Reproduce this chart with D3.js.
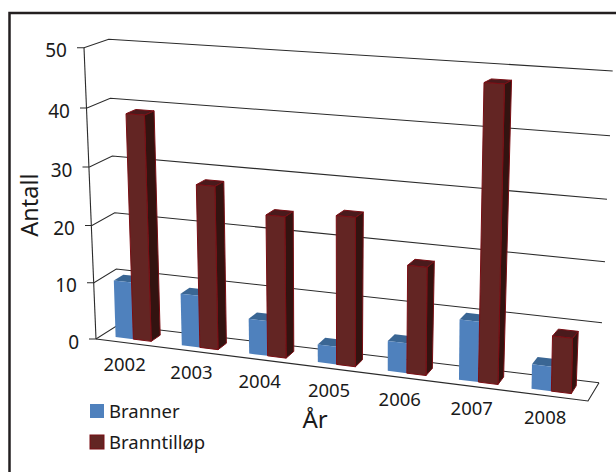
<!DOCTYPE html>
<html>
<head>
<meta charset="utf-8">
<script src="https://cdn.jsdelivr.net/npm/d3@7"></script>
<style>
  html, body { margin: 0; padding: 0; background: #fff; }
  svg { display: block; }
  text { font-family: "Noto Sans", sans-serif; fill: #1a1a1a; }
</style>
</head>
<body>
<div id="chart"></div>
<script>
const years = ["2002", "2003", "2004", "2005", "2006", "2007", "2008"];
const branner = [10, 9, 6, 3, 5, 10, 4];
const branntillop = [39, 28, 24, 25, 18, 48, 9];
const seriesNames = ["Branner", "Branntilløp"];
const yTicks = [0, 10, 20, 30, 40, 50];

const width = 616, height = 472;

const svg = d3.select("#chart")
  .append("svg")
  .attr("width", width)
  .attr("height", height);

// box corners as they sit on the page, one scale pair per vertical edge
const edge = (xs, ys) => ({
  x: d3.scaleLinear().domain(yTicks).range(xs),
  y: d3.scaleLinear().domain(yTicks).range(ys)
});
const frontLeft = edge([96, 94, 92, 89.5, 87, 84], [339, 282.7, 225.5, 167, 108, 47.7]);
const backLeft = edge([118, 116.3, 114.7, 112.3, 110.3, 108.7], [325, 269, 212.7, 156, 98.3, 39.3]);
const backRight = edge([599, 602, 605, 607, 610, 612.7], [382.7, 322.7, 261.7, 199.3, 135.7, 71]);
const frontRight = edge([588, 589, 591, 593, 595.5, 598], [401, 338.7, 276, 211, 146, 79]);

// perspective squeeze along the width of the floor
const k = 1.067;
const warp = u => u / (u + k * (1 - u));

// u: 0-1 across, d: 0 front - 1 back, v: value
function project(u, d, v) {
  const w = warp(u);
  const at = key => {
    const front = frontLeft[key](v) + (frontRight[key](v) - frontLeft[key](v)) * w;
    const back = backLeft[key](v) + (backRight[key](v) - backLeft[key](v)) * w;
    return front + (back - front) * d;
  };
  return [at("x"), at("y")];
}

const x0 = d3.scaleBand().domain(years).range([-0.003, 0.995]).paddingInner(0.46).paddingOuter(0.23);
const x1 = d3.scaleBand().domain(seriesNames).range([0, x0.bandwidth()]);
const depthFront = 0.27, depthBack = 0.7;

const line = d3.line();
const axisColor = "#2b2b2b";

// =========================
// FLOOR + GRID
// =========================
const grid = svg.append("g")
  .attr("fill", "none")
  .attr("stroke", axisColor)
  .attr("stroke-width", 1.1);

grid.selectAll("path.grid")
  .data(yTicks)
  .join("path")
  .attr("class", "grid")
  .attr("d", v => line([
    [frontLeft.x(v) - 7, frontLeft.y(v)],
    [frontLeft.x(v), frontLeft.y(v)],
    [backLeft.x(v), backLeft.y(v)],
    [backRight.x(v), backRight.y(v)]
  ]));

grid.append("path")
  .attr("d", line([[frontLeft.x(50), frontLeft.y(50)], [frontLeft.x(0), frontLeft.y(0)]]));

grid.append("path")
  .attr("d", line([
    [frontLeft.x(0), frontLeft.y(0)],
    [frontRight.x(0), frontRight.y(0)],
    [backRight.x(0), backRight.y(0)]
  ]));

// =========================
// BARS
// =========================
const palette = {
  Branner: { front: "#4f81bd", side: "#2f5480", top: "#3a6694", stroke: "none" },
  "Branntilløp": { front: "#632523", side: "#331310", top: "#4a1a1c", stroke: "#7a0e14" }
};

const barData = years.flatMap((year, i) => [
  { year, name: "Branner", value: branner[i] },
  { year, name: "Branntilløp", value: branntillop[i] }
]);

const bars = svg.append("g")
  .selectAll("g")
  .data(barData)
  .join("g")
  .attr("stroke-width", 1)
  .attr("stroke-linejoin", "round")
  .attr("stroke", d => palette[d.name].stroke);

const uLeft = d => x0(d.year) + x1(d.name);
const uRight = d => uLeft(d) + x1.bandwidth();

bars.append("path")
  .attr("fill", d => palette[d.name].side)
  .attr("d", d => line([
    project(uRight(d), depthFront, 0),
    project(uRight(d), depthBack, 0),
    project(uRight(d), depthBack, d.value),
    project(uRight(d), depthFront, d.value)
  ]) + "Z");

bars.append("path")
  .attr("fill", d => palette[d.name].top)
  .attr("d", d => line([
    project(uLeft(d), depthFront, d.value),
    project(uRight(d), depthFront, d.value),
    project(uRight(d), depthBack, d.value),
    project(uLeft(d), depthBack, d.value)
  ]) + "Z");

bars.append("path")
  .attr("fill", d => palette[d.name].front)
  .attr("d", d => line([
    project(uLeft(d), depthFront, 0),
    project(uRight(d), depthFront, 0),
    project(uRight(d), depthFront, d.value),
    project(uLeft(d), depthFront, d.value)
  ]) + "Z");

// =========================
// TICK LABELS
// =========================
svg.append("g")
  .selectAll("text")
  .data(yTicks)
  .join("text")
  .attr("x", v => frontLeft.x(v) - 17)
  .attr("y", v => frontLeft.y(v) + 9.5)
  .attr("text-anchor", "end")
  .style("font-size", "19px")
  .text(d => d);

svg.append("g")
  .selectAll("text")
  .data(years)
  .join("text")
  .attr("x", d => project(x0(d) + x0.bandwidth() / 2, 0, 0)[0] - 3)
  .attr("y", d => project(x0(d) + x0.bandwidth() / 2, 0, 0)[1] + 28)
  .attr("text-anchor", "middle")
  .style("font-size", "18.5px")
  .text(d => d);

// =========================
// AXIS TITLES
// =========================
svg.append("text")
  .attr("transform", "translate(38,205) rotate(-90)")
  .attr("text-anchor", "middle")
  .style("font-size", "23.5px")
  .text("Antall");

svg.append("text")
  .attr("x", 315)
  .attr("y", 428)
  .attr("text-anchor", "middle")
  .style("font-size", "24px")
  .text("År");

// =========================
// LEGEND
// =========================
const legend = svg.append("g")
  .selectAll("g")
  .data(seriesNames)
  .join("g")
  .attr("transform", (d, i) => `translate(90,${404 + i * 31})`);

legend.append("rect")
  .attr("width", 14)
  .attr("height", 14)
  .attr("fill", d => palette[d].front)
  .attr("stroke", d => palette[d].stroke);

legend.append("text")
  .attr("x", 19)
  .attr("y", 14)
  .style("font-size", "18.5px")
  .text(d => d);

// =========================
// FRAME (top and left only)
// =========================
svg.append("path")
  .attr("d", line([[9.5, height], [9.5, 13], [width, 13]]))
  .attr("fill", "none")
  .attr("stroke", "#231f20")
  .attr("stroke-width", 2.5);
</script>
</body>
</html>
